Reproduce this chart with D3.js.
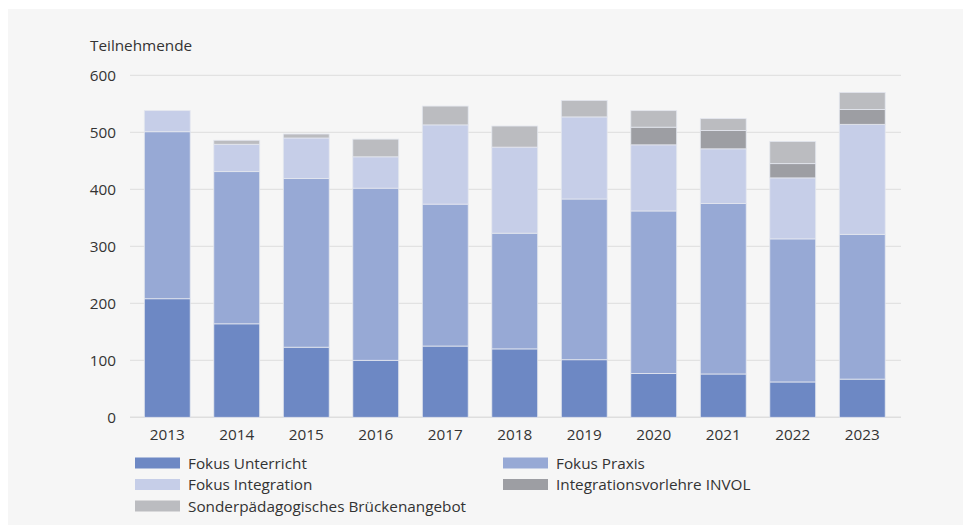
<!DOCTYPE html>
<html>
<head>
    <meta charset="utf-8">
    <script src="https://d3js.org/d3.v7.min.js"></script>
    <style>
        body { margin: 0; background: #ffffff; }
        text { font-family: "Open Sans", Lato, sans-serif; fill: #333333; font-size: 15.3px; }
    </style>
</head>
<body>
    <div id="chart"></div>
    <script>
        // Data
        const years = ['2013', '2014', '2015', '2016', '2017', '2018', '2019', '2020', '2021', '2022', '2023'];
        const seriesNames = ['Fokus Unterricht', 'Fokus Praxis', 'Fokus Integration', 'Integrationsvorlehre INVOL', 'Sonderpädagogisches Brückenangebot'];
        const unterricht = [208, 164, 123, 100, 125, 120, 101, 77, 76, 62, 67];
        const praxis = [293, 267, 296, 302, 249, 203, 282, 285, 299, 251, 254];
        const integration = [37, 48, 71, 55, 139, 151, 144, 116, 96, 107, 193];
        const invol = [0, 0, 0, 0, 0, 0, 0, 31, 32, 25, 26];
        const sonder = [0, 7, 7, 31, 33, 37, 29, 29, 21, 39, 30];
        const yTicks = [0, 100, 200, 300, 400, 500, 600];
        const colors = ['#6d88c4', '#97a9d5', '#c6cee8', '#9d9ea3', '#bbbcc0'];

        const width = 963;
        const height = 525;

        const svg = d3.select('#chart').append('svg')
                      .attr('width', width)
                      .attr('height', height);

        // Background panel
        svg.append('rect')
           .attr('x', 8)
           .attr('y', 9)
           .attr('width', width - 8)
           .attr('height', height - 9)
           .attr('fill', '#f6f6f6');

        const plotLeft = 130, plotRight = 901, plotTop = 75.3, plotBottom = 417.3;

        const xScale = d3.scaleBand()
                         .domain(years)
                         .range([plotLeft + 2.5, plotRight - 4])
                         .paddingInner(0.34)
                         .paddingOuter(0.17);

        const yScale = d3.scaleLinear()
                         .domain([0, 600])
                         .range([plotBottom, plotTop]);

        // Grid lines + y labels
        yTicks.forEach((t) => {
            svg.append('line')
               .attr('x1', plotLeft)
               .attr('x2', plotRight)
               .attr('y1', yScale(t))
               .attr('y2', yScale(t))
               .attr('stroke', '#dedede')
               .attr('stroke-width', t === 0 ? 1.5 : 1);
            svg.append('text')
               .attr('x', 116)
               .attr('y', yScale(t) + 5.5)
               .attr('text-anchor', 'end')
               .text(t);
        });

        // Y title
        svg.append('text')
           .attr('x', 90)
           .attr('y', 51)
           .text('Teilnehmende');

        // Stack
        const table = years.map((y, i) => ({
            year: y,
            s0: unterricht[i], s1: praxis[i], s2: integration[i], s3: invol[i], s4: sonder[i]
        }));
        const stack = d3.stack().keys(['s0', 's1', 's2', 's3', 's4']);
        const layers = stack(table);

        layers.forEach((layer, k) => {
            layer.forEach((d) => {
                if (d[1] - d[0] <= 0) return;
                svg.append('rect')
                   .attr('x', xScale(d.data.year))
                   .attr('y', yScale(d[1]))
                   .attr('width', xScale.bandwidth())
                   .attr('height', yScale(d[0]) - yScale(d[1]))
                   .attr('fill', colors[k])
                   .attr('stroke', '#e4e7ef')
                   .attr('stroke-width', 0.8);
            });
        });

        // X labels
        years.forEach((y) => {
            svg.append('text')
               .attr('x', xScale(y) + xScale.bandwidth() / 2)
               .attr('y', 440)
               .attr('text-anchor', 'middle')
               .text(y);
        });

        // Legend
        const legendPos = [[135, 463], [503, 463], [135, 484.5], [503, 484.5], [135, 506]];
        seriesNames.forEach((name, i) => {
            const [lx, ly] = legendPos[i];
            svg.append('rect')
               .attr('x', lx)
               .attr('y', ly - 5.5)
               .attr('width', 45)
               .attr('height', 11)
               .attr('fill', colors[i]);
            svg.append('text')
               .attr('x', lx + 53)
               .attr('y', ly + 5.5)
               .text(name);
        });
    </script>
</body>
</html>
